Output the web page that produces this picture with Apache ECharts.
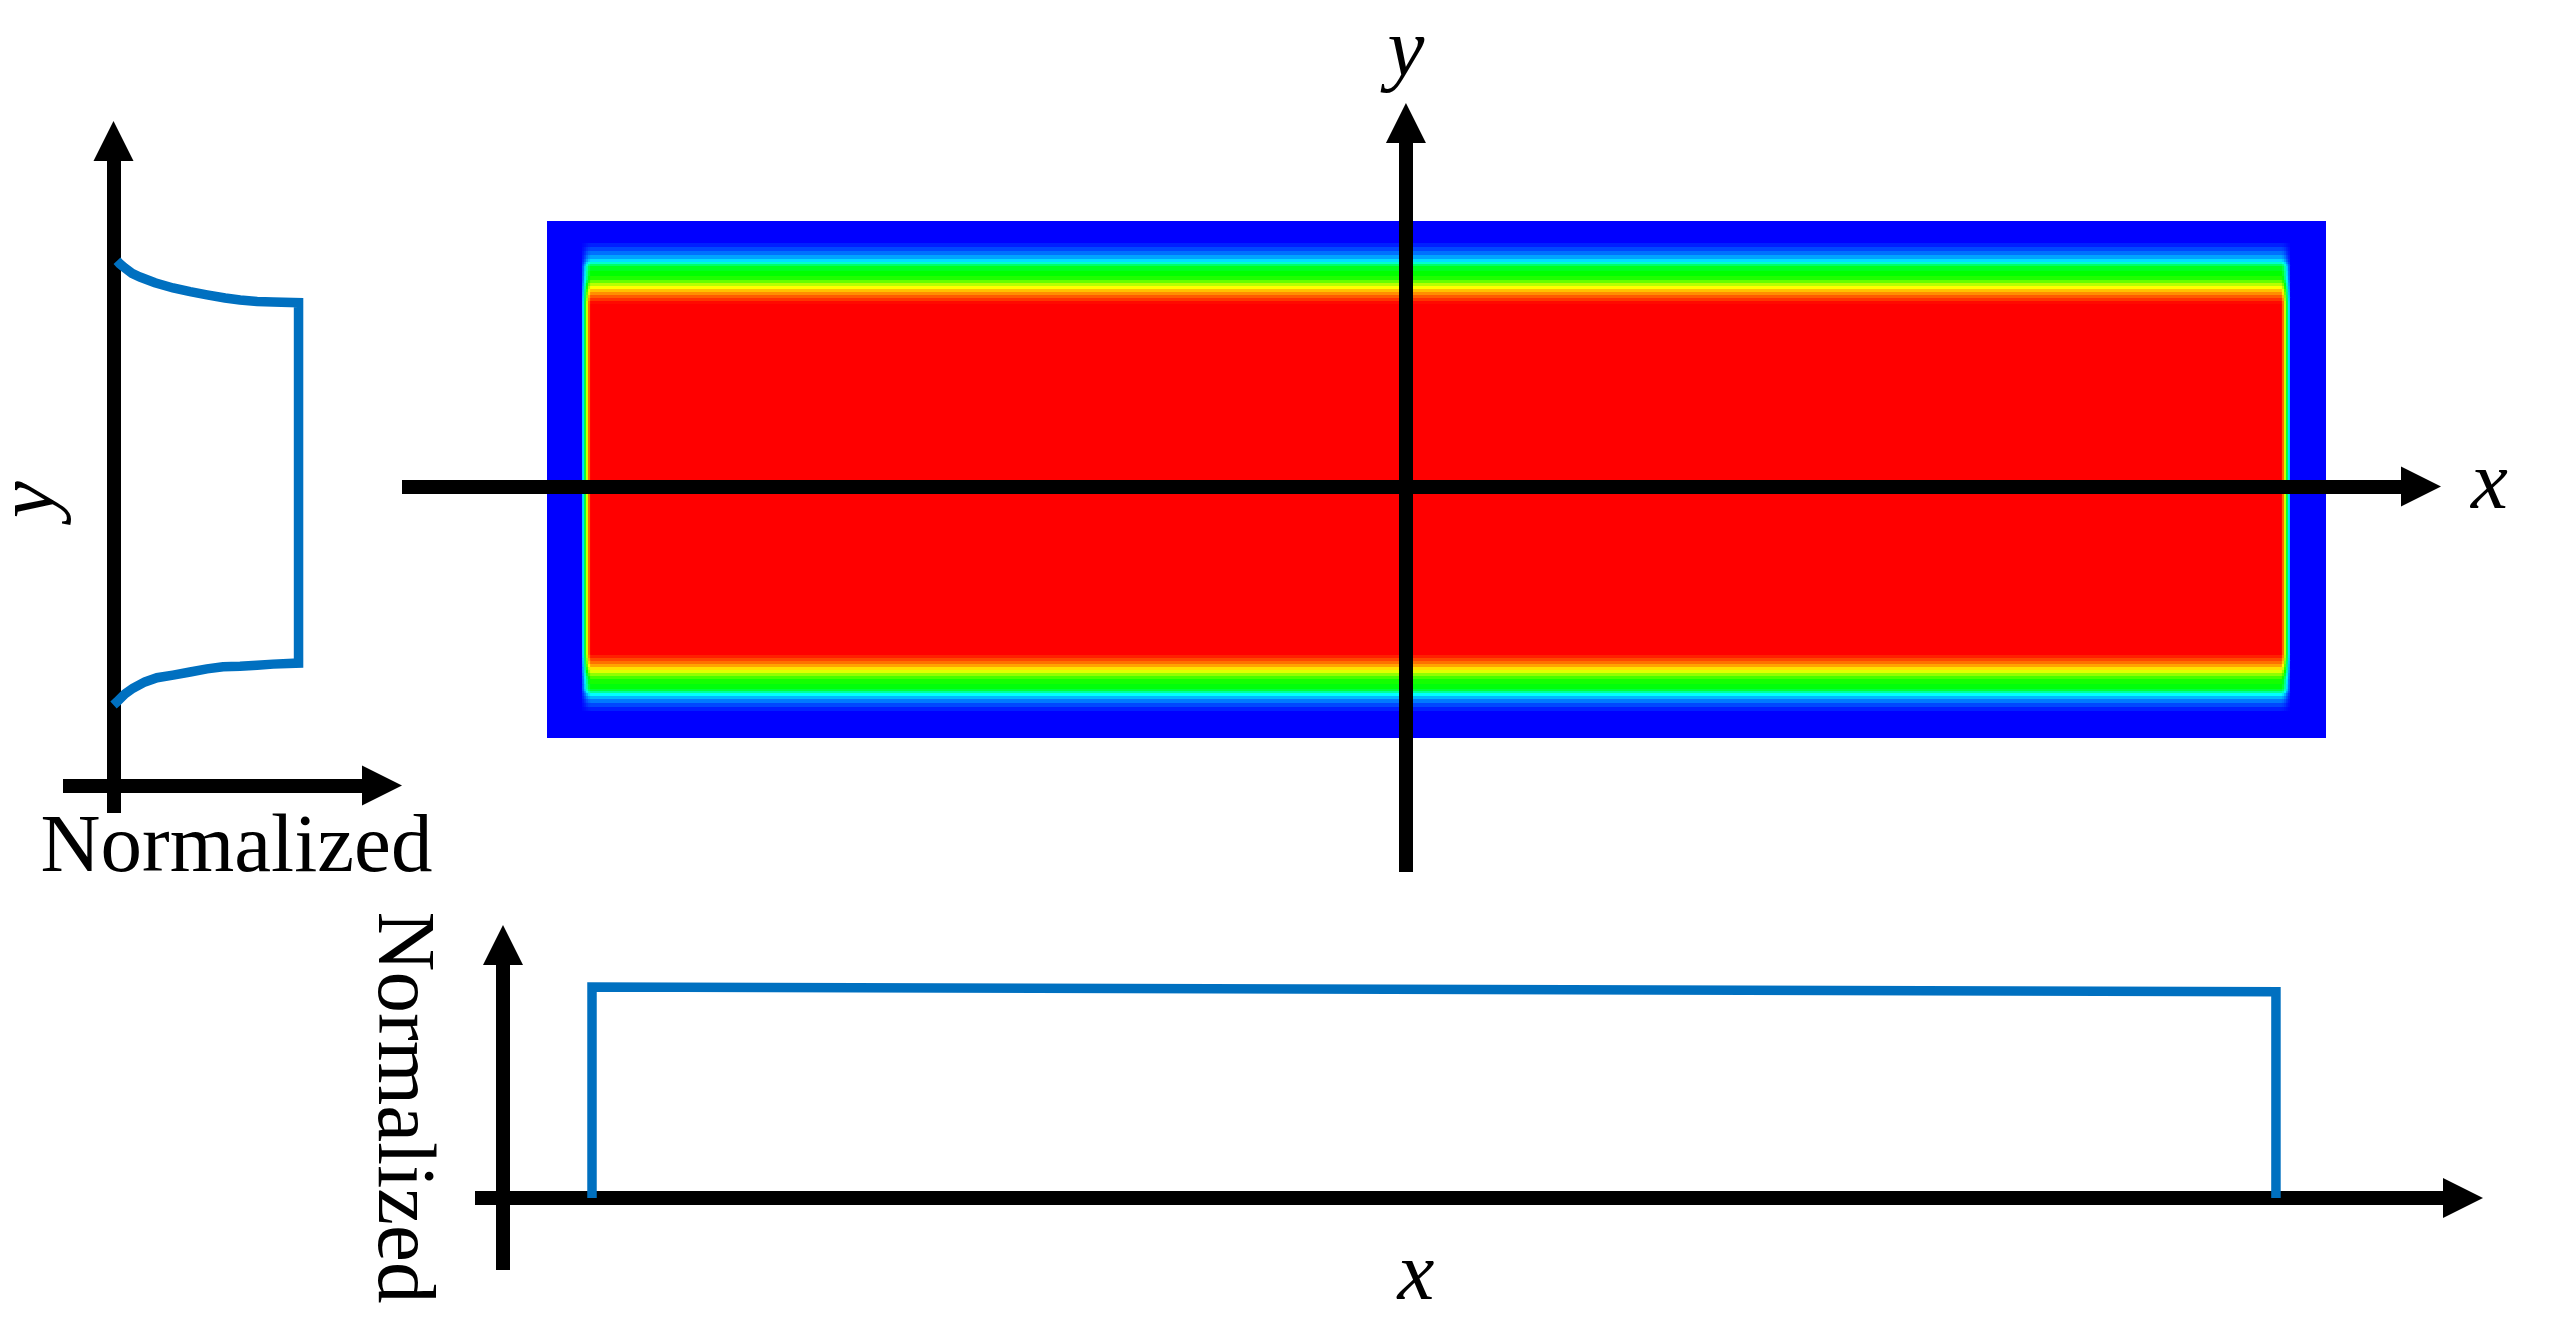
<!DOCTYPE html>
<html>
<head>
<meta charset="utf-8">
<script src="https://cdn.jsdelivr.net/npm/echarts@6/dist/echarts.min.js"></script>
<style>
html,body{margin:0;padding:0;background:#fff;}
#chart{width:2552px;height:1339px;}
</style>
</head>
<body>
<div id="chart"></div>
<script>
// ---------- Left panel: normalized profile along y (upper wall -> plateau -> lower wall) ----------
const leftProfileValue = [0.019, 0.035, 0.062, 0.100, 0.143, 0.224, 0.322, 0.414, 0.505, 0.603, 0.684, 0.776, 0.862, 1.0,
                          1.0, 0.862, 0.776, 0.684, 0.592, 0.505, 0.414, 0.322, 0.235, 0.170, 0.105, 0.062, 0.019, 0.0];
const leftProfileY     = [1.003, 0.997, 0.989, 0.979, 0.972, 0.961, 0.951, 0.944, 0.938, 0.932, 0.928, 0.925, 0.924, 0.923,
                          0.234, 0.232, 0.230, 0.228, 0.227, 0.223, 0.217, 0.211, 0.206, 0.198, 0.186, 0.175, 0.160, 0.154];

// ---------- Bottom panel: normalized profile along x ----------
const bottomProfileX     = [0.345, 0.345, 6.872, 6.872];
const bottomProfileValue = [0, 1, 0.978, 0];

// ---------- Main field (contour map) ----------
// band edges along x (left wall -> right wall) and normalized level in each band
const fieldXEdges  = [-3.446, -3.310, -3.302, -3.295, -3.287, -3.279, 3.279, 3.287, 3.295, 3.302, 3.310, 3.446];
const fieldXLevels = [0, 0.22, 0.45, 0.7, 0.9, 1, 0.9, 0.7, 0.45, 0.22, 0];
// band edges along y (top wall -> bottom wall) and normalized level in each band
const fieldYEdges  = [1.000, 0.915, 0.899, 0.884, 0.868, 0.853, 0.841, 0.833, 0.826, 0.806, 0.787, 0.771, 0.760, 0.748, 0.736, 0.725, 0.713, 0.702, 0.690, 0.678,
                      -0.682, -0.694, -0.705, -0.717, -0.729, -0.740, -0.752, -0.764, -0.775, -0.795, -0.814, -0.822, -0.829, -0.841, -0.853, -0.868, -0.884, -0.899, -1.000];
const fieldYLevels = [0, 0.03, 0.07, 0.11, 0.16, 0.22, 0.30, 0.40, 0.47, 0.50, 0.53, 0.60, 0.68, 0.75, 0.81, 0.86, 0.91, 0.95, 0.99,
                      1,
                      0.97, 0.93, 0.89, 0.84, 0.78, 0.72, 0.64, 0.57, 0.52, 0.49, 0.44, 0.35, 0.25, 0.18, 0.12, 0.07, 0.03, 0];
const colorScale = ['#0000ff', '#00ffff', '#00ff00', '#ffff00', '#ff0000'];

// axis titles
const leftXName = 'Normalized', leftYName = 'y';
const mainXName = 'x', mainYName = 'y';
const bottomXName = 'x', bottomYName = 'Normalized';

// ---------- build tables ----------
const pairs = (a, b) => a.map((v, i) => [v, b[i]]);
const leftData = pairs(leftProfileValue, leftProfileY);
const bottomData = pairs(bottomProfileX, bottomProfileValue);
const fieldCells = [];
for (let j = 0; j < fieldYLevels.length; j++) {
  for (let i = 0; i < fieldXLevels.length; i++) {
    fieldCells.push([fieldXEdges[i], fieldXEdges[i + 1], fieldYEdges[j + 1], fieldYEdges[j], fieldXLevels[i] * fieldYLevels[j]]);
  }
}

const SERIF = "'Liberation Serif','Times New Roman',serif";
const AX_W = 14;
const BLUE = '#0070C0';
const LW = 9.5;

function arrowAxis(extra) {
  return Object.assign({
    type: 'value',
    axisLine: { show: true, onZero: true, symbol: ['none', 'triangle'], symbolSize: [40, 40],
      lineStyle: { color: '#000', width: AX_W, cap: 'butt' } },
    axisTick: { show: false }, axisLabel: { show: false }, splitLine: { show: false },
    nameTextStyle: { fontFamily: SERIF, fontSize: 83, color: '#000' }
  }, extra);
}
function hiddenAxis(extra) {
  return Object.assign({ type: 'value', show: false, splitLine: { show: false } }, extra);
}
function profileLine(xi, data) {
  return { type: 'line', xAxisIndex: xi, yAxisIndex: xi, data: data, showSymbol: false, symbol: 'none',
    smooth: false, lineStyle: { color: BLUE, width: LW, cap: 'butt', join: 'miter' }, z: 3 };
}

const chart = echarts.init(document.getElementById('chart'), null, { renderer: 'canvas' });
chart.setOption({
  animation: false,
  backgroundColor: '#fff',
  grid: [
    { left: 63, top: 141, width: 319, height: 672, outerBoundsMode: 'none', containLabel: false },
    { left: 547, top: 221, width: 1778, height: 516, outerBoundsMode: 'none', containLabel: false },
    { left: 402, top: 123, width: 2019, height: 749, outerBoundsMode: 'none', containLabel: false },
    { left: 475, top: 945, width: 1988, height: 325, outerBoundsMode: 'none', containLabel: false }
  ],
  xAxis: [
    arrowAxis({ gridIndex: 0, min: -0.273, max: 1.451, name: leftXName, nameLocation: 'middle', nameGap: -5,
      nameTextStyle: { fontFamily: SERIF, fontSize: 83, color: '#000', padding: [0, 0, 0, 28] } }),
    hiddenAxis({ gridIndex: 1, min: -3.446, max: 3.446 }),
    arrowAxis({ gridIndex: 2, min: -3.891, max: 3.934, z: 10, name: mainXName, nameLocation: 'end', nameGap: 50,
      nameTextStyle: { fontFamily: SERIF, fontSize: 83, fontStyle: 'italic', color: '#000', padding: [40, 0, 0, 0] } }),
    arrowAxis({ gridIndex: 3, min: -0.1085, max: 7.597, name: bottomXName, nameLocation: 'middle', nameGap: -34,
      nameTextStyle: { fontFamily: SERIF, fontSize: 83, fontStyle: 'italic', color: '#000', padding: [0, 106, 0, 0] } })
  ],
  yAxis: [
    arrowAxis({ gridIndex: 0, min: -0.0526, max: 1.232, name: leftYName, nameLocation: 'middle', nameGap: -10,
      nameTextStyle: { fontFamily: SERIF, fontSize: 83, fontStyle: 'italic', color: '#000', padding: [0, 45, 0, 0] } }),
    hiddenAxis({ gridIndex: 1, min: -1, max: 1 }),
    arrowAxis({ gridIndex: 2, min: -1.494, max: 1.409, z: 10, name: mainYName, nameLocation: 'end', nameGap: 28,
      nameTextStyle: { fontFamily: SERIF, fontSize: 83, fontStyle: 'italic', color: '#000' } }),
    arrowAxis({ gridIndex: 3, min: -0.341, max: 1.199, name: bottomYName, nameLocation: 'middle', nameGap: 33, nameRotate: -90,
      nameTextStyle: { fontFamily: SERIF, fontSize: 83, color: '#000' } })
  ],
  visualMap: {
    show: false, type: 'continuous', min: 0, max: 1, dimension: 4, seriesIndex: 1,
    inRange: { color: colorScale }
  },
  series: [
    profileLine(0, leftData),
    { type: 'custom', xAxisIndex: 1, yAxisIndex: 1, data: fieldCells,
      encode: { x: [0, 1], y: [2, 3] }, z: 1,
      renderItem: function (params, api) {
        const a = api.coord([api.value(0), api.value(3)]);
        const b = api.coord([api.value(1), api.value(2)]);
        return { type: 'rect',
          shape: { x: a[0], y: a[1], width: b[0] - a[0] + 1, height: b[1] - a[1] + 1 },
          style: { fill: api.visual('color') } };
      } },
    profileLine(3, bottomData)
  ]
});
</script>
</body>
</html>
